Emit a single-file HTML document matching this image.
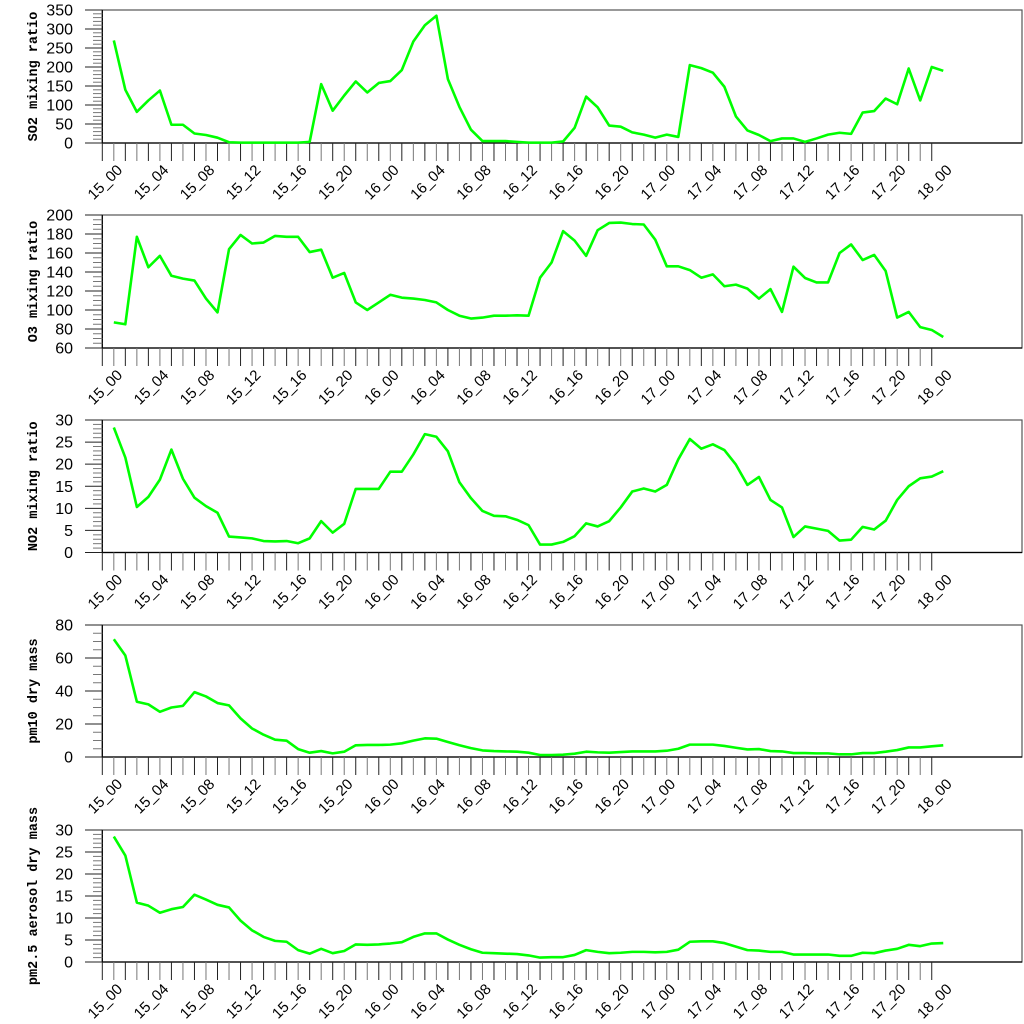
<!DOCTYPE html>
<html><head><meta charset="utf-8"><style>
html,body{margin:0;padding:0;background:#fff}
svg{display:block}
</style></head><body>
<svg id="chart" width="1024" height="1024" xmlns="http://www.w3.org/2000/svg"></svg>
<script>
const timeLabels = ["15_00","15_04","15_08","15_12","15_16","15_20","16_00","16_04","16_08","16_12","16_16","16_20","17_00","17_04","17_08","17_12","17_16","17_20","18_00"];
const so2 = [270,140,82,112,138,48,48,25,21,14,2,1,1,1,1,1,1,3,155,85,125,162,133,158,
163,192,267,310,335,168,95,35,5,5,5,3,1,1,1,4,40,122,94,46,43,28,22,14,
22,16,205,197,185,148,70,33,21,5,12,12,3,12,22,27,24,80,84,117,102,196,112,200,190];
const o3 = [87,85,177,145,157,136,133,131,112,97.5,164,179,170,171,178,177,177,161,163.5,134,139,108,100,108,
116,113,112,110.5,108,100,94,91,92,94,94,94.4,94,134,150,183,173,157,184,191.6,192,190.5,190,174,
146,146,142,134,137.5,125,126.7,122.5,112,122,98,145.6,133.7,129,129,160,169,152.6,158,141,92,98,82,79,71.6];
const no2 = [28.3,21.5,10.3,12.6,16.5,23.3,16.7,12.4,10.5,9.0,3.6,3.4,3.2,2.6,2.5,2.6,2.1,3.2,7.1,4.5,6.5,14.4,14.4,14.4,
18.3,18.3,22.2,26.8,26.2,22.9,15.9,12.3,9.4,8.3,8.2,7.4,6.2,1.8,1.8,2.4,3.7,6.6,5.9,7.1,10.2,13.8,14.5,13.8,
15.3,21.1,25.7,23.5,24.5,23.2,19.9,15.3,17.1,11.9,10.2,3.5,5.9,5.4,4.9,2.7,2.9,5.8,5.2,7.2,11.9,15.0,16.8,17.2,18.4];
const pm10 = [71.4,61.5,33.5,31.9,27.4,30,31,39.3,36.7,32.7,31.3,23.4,17.3,13.5,10.5,9.9,4.8,2.6,3.6,2.2,3.2,7.1,7.3,7.3,
7.5,8.3,9.9,11.3,11.1,9.1,7.1,5.4,4,3.6,3.4,3.2,2.6,1.2,1.2,1.4,2,3.2,2.8,2.6,3,3.4,3.4,3.4,
3.8,5,7.5,7.5,7.5,6.7,5.6,4.6,4.8,3.6,3.4,2.4,2.4,2.2,2.2,1.6,1.6,2.4,2.4,3.2,4.2,5.8,5.8,6.5,7.1];
const pm25 = [28.5,24.2,13.5,12.8,11.2,12,12.5,15.3,14.2,13,12.4,9.4,7.2,5.7,4.8,4.6,2.7,1.9,3,2,2.5,4,3.9,4,
4.2,4.5,5.7,6.5,6.5,5.1,3.9,2.9,2.1,2,1.9,1.8,1.5,1,1.1,1.1,1.6,2.7,2.3,2,2.1,2.3,2.3,2.2,
2.3,2.8,4.6,4.7,4.7,4.3,3.5,2.7,2.6,2.3,2.3,1.7,1.7,1.7,1.7,1.4,1.4,2.1,2,2.6,3,3.9,3.6,4.2,4.3];

const panels = [
 {name:"so2", title:"SO2 mixing ratio", data:so2, top:10, bottom:143, min:0, max:350, major:50, minor:10},
 {name:"o3", title:"O3 mixing ratio", data:o3, top:215, bottom:348, min:60, max:200, major:20, minor:5},
 {name:"no2", title:"NO2 mixing ratio", data:no2, top:420, bottom:552.5, min:0, max:30, major:5, minor:1},
 {name:"pm10", title:"pm10 dry mass", data:pm10, top:625, bottom:757, min:0, max:80, major:20, minor:5},
 {name:"pm25", title:"pm2.5 aerosol dry mass", data:pm25, top:830, bottom:962, min:0, max:30, major:5, minor:1}
];
const NS="http://www.w3.org/2000/svg";
const svg=document.getElementById('chart');
const L=102.3, R=1022, STEP=11.52;
function mk(tag,attrs,parent){const e=document.createElementNS(NS,tag);for(const k in attrs)e.setAttribute(k,attrs[k]);parent.appendChild(e);return e;}
function xTick(k){return L+k*STEP;}
function xData(i){return L+(i+1)*STEP;}

panels.forEach(p=>{
  const g=mk('g',{},svg);
  
  
  const y=v=>p.bottom-(v-p.min)/(p.max-p.min)*(p.bottom-p.top);
  // frame
  const fr=mk('rect',{x:L,y:p.top,width:R-L,height:p.bottom-p.top,fill:'none',stroke:'#555','stroke-width':1.2},g);
  
  
  mk('line',{x1:L,y1:p.top,x2:L,y2:p.bottom,stroke:'#000','stroke-width':1.2},g);
  mk('line',{x1:L,y1:p.bottom,x2:R,y2:p.bottom,stroke:'#000','stroke-width':1.2},g);
  // y ticks
  const ya=mk('g',{},g);
  
  
  for(let v=p.min; v<=p.max+1e-9; v+=p.minor){
    const isMaj=Math.abs(((v-p.min)/p.major)-Math.round((v-p.min)/p.major))<1e-6;
    mk('line',{x1:isMaj?85:93,y1:y(v),x2:L,y2:y(v),stroke:isMaj?'#222':'#777','stroke-width':1},ya);
    if(isMaj){
      const t=mk('text',{x:73,y:y(v)+5.5,'text-anchor':'end','font-family':'Liberation Sans, sans-serif','font-size':16,fill:'#000'},ya);
      t.textContent=String(Math.round(v));
      
      
    }
  }
  const cy=(p.top+p.bottom)/2;
  const tt=mk('text',{x:37,y:cy,'text-anchor':'middle','font-family':'Liberation Mono, monospace','font-weight':'bold','font-size':13.5,fill:'#000',transform:`rotate(-90 37 ${cy})`},g);
  tt.textContent=p.title;
  
  
  // x ticks
  const xa=mk('g',{},g);
  
  
  for(let k=0;k<=72;k++){
    mk('line',{x1:xTick(k),y1:p.bottom,x2:xTick(k),y2:p.bottom+18,stroke:k%2?'#777':'#222','stroke-width':1},xa);
    if(k%4===0){
      const ex=xTick(k)+21, ey=p.bottom+28;
      const t=mk('text',{x:ex,y:ey,'text-anchor':'end','font-family':'Liberation Sans, sans-serif','font-size':15,fill:'#000',transform:`rotate(-45 ${ex} ${ey})`},xa);
      t.textContent=timeLabels[k/4];
      
      
    }
  }
  // line
  const d=p.data.map((v,i)=>(i?'L':'M')+xData(i).toFixed(2)+' '+y(v).toFixed(2)).join(' ');
  const pl=mk('path',{d:d,fill:'none',stroke:'#00ff00','stroke-width':2.6,'stroke-linejoin':'round'},g);
  
  
});
</script>
</body></html>
